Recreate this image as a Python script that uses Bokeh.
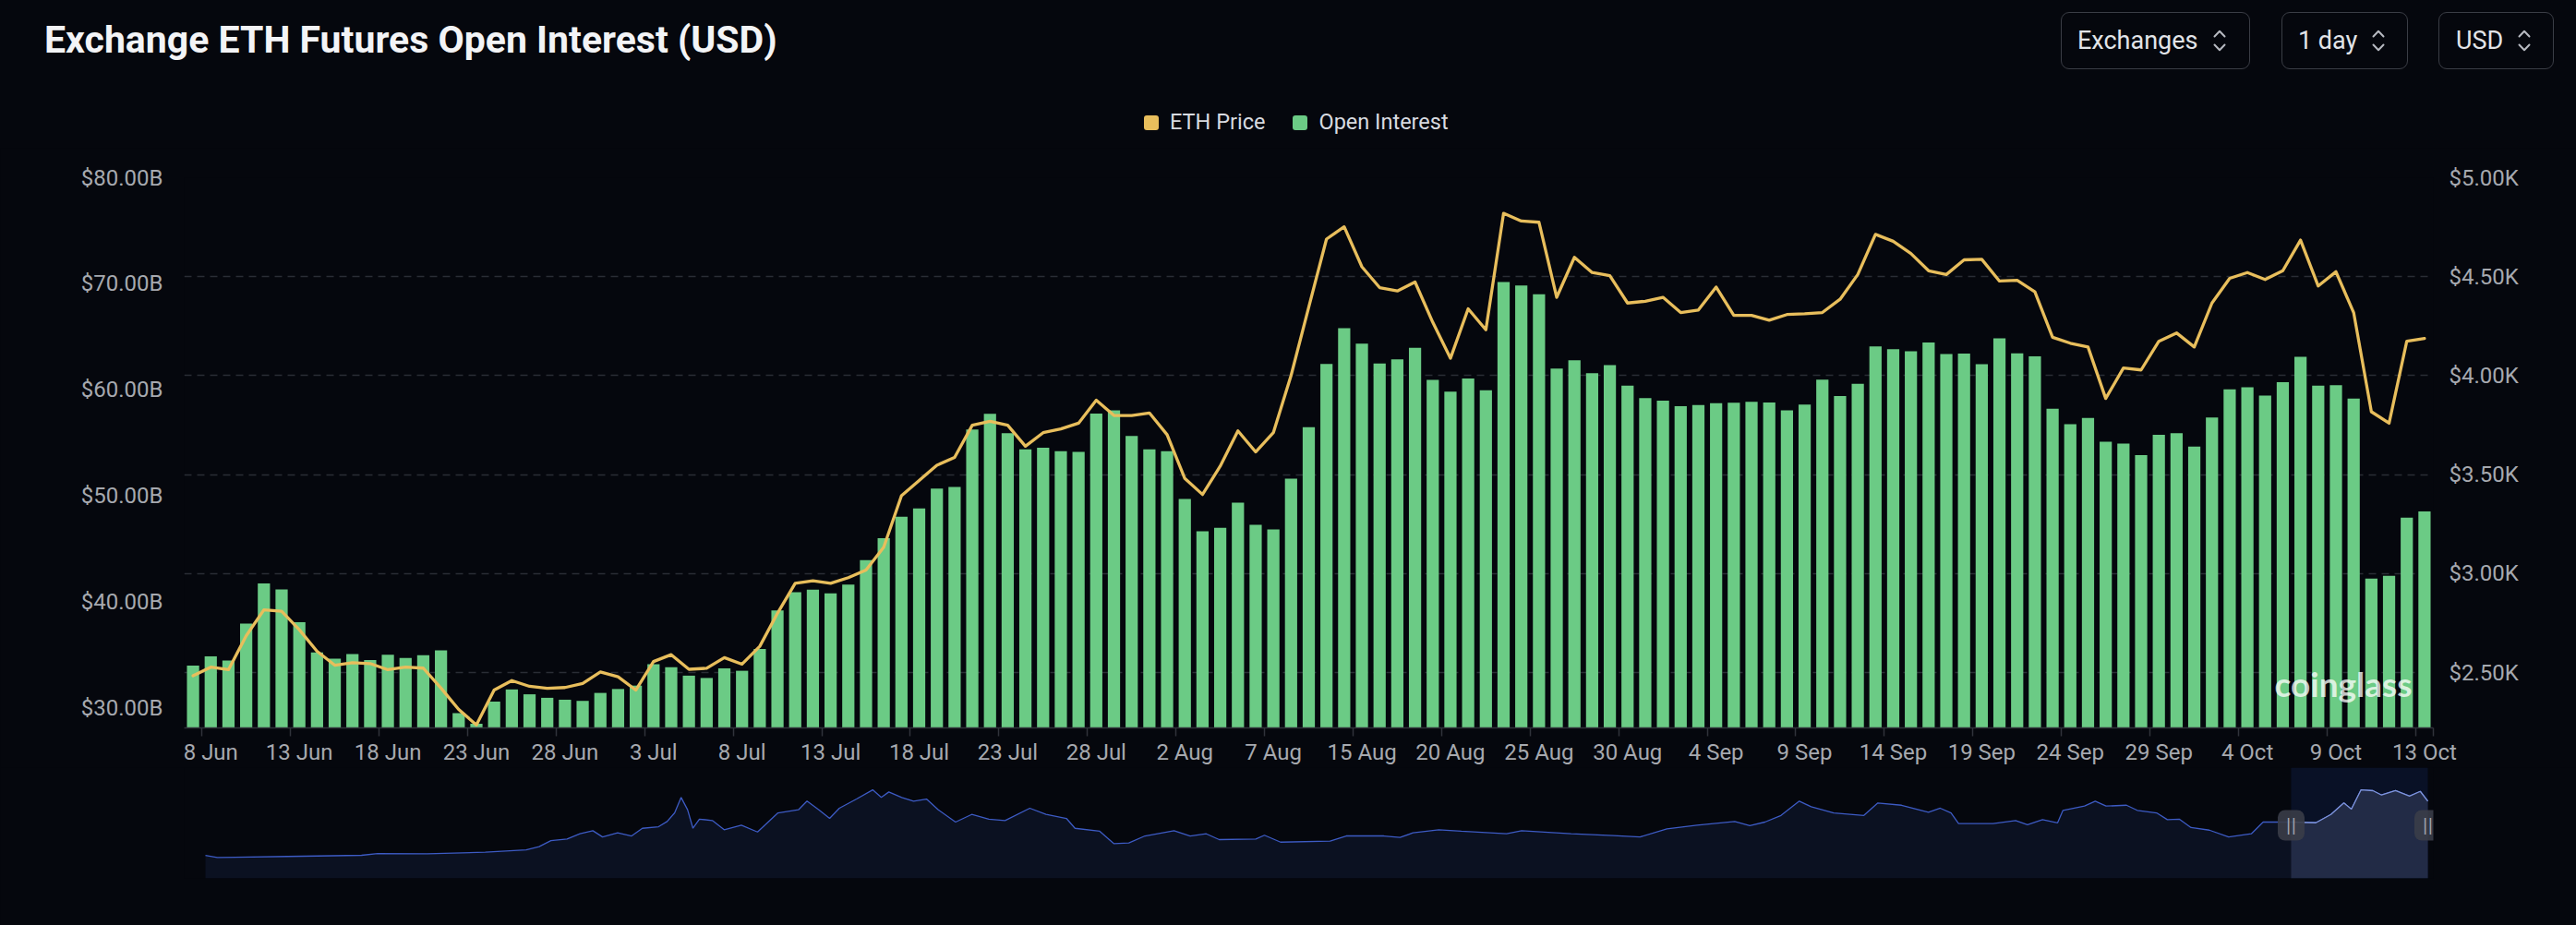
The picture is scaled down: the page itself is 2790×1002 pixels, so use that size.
import pandas as pd
from bokeh.plotting import figure
from bokeh.layouts import column
from bokeh.models import (Range1d, LinearAxis, FixedTicker, Grid, Label, Div,
                          BoxAnnotation)
from bokeh.embed import file_html
from bokeh.resources import INLINE

# ---------------- data ----------------
TITLE = "Exchange ETH Futures Open Interest (USD)"
CONTROLS = ["Exchanges", "1 day", "USD"]
SERIES = ["ETH Price", "Open Interest"]


def fmt(ts):
    return f"{ts.day} {ts.strftime('%b')}"


dates = ([fmt(d) for d in pd.date_range("2025-06-07", "2025-08-07")]
         + ["9 Aug", "11 Aug", "12 Aug", "13 Aug"]
         + [fmt(d) for d in pd.date_range("2025-08-15", "2025-10-09")]
         + ["10 Oct", "11 Oct", "12 Oct", "13 Oct", "13 Oct"])

# Open interest, $B
open_interest = [
    33.97, 34.84, 34.46, 37.93, 41.72, 41.17, 38.07, 35.21, 34.63, 35.06,
    34.49, 35.01, 34.69, 34.95, 35.41, 29.49, 28.50, 30.58, 31.73, 31.27,
    30.94, 30.76, 30.65, 31.40, 31.77, 32.09, 34.10, 33.82, 33.03, 32.81,
    33.71, 33.49, 35.54, 39.18, 40.90, 41.15, 40.79, 41.62, 43.92, 46.00,
    48.01, 48.81, 50.68, 50.82, 56.25, 57.73, 55.89, 54.38, 54.53, 54.20,
    54.13, 57.76, 58.05, 55.64, 54.38, 54.20, 49.70, 46.65, 46.97, 49.35,
    47.26, 46.83, 51.61, 56.47, 62.43, 65.81, 64.34, 62.47, 62.86, 63.95,
    60.93, 59.81, 61.07, 59.96, 70.16, 69.83, 69.01, 62.00, 62.79, 61.57,
    62.32, 60.38, 59.20, 58.98, 58.44, 58.55, 58.73, 58.77, 58.87, 58.80,
    58.05, 58.59, 60.96, 59.41, 60.56, 64.08, 63.83, 63.62, 64.45, 63.37,
    63.41, 62.40, 64.84, 63.44, 63.15, 58.20, 56.76, 57.33, 55.10, 54.92,
    53.84, 55.75, 55.89, 54.63, 57.37, 60.03, 60.24, 59.45, 60.71, 63.11,
    60.38, 60.42, 59.16, 42.19, 42.44, 47.94, 48.52,
]

# ETH price, $
eth_price = [
    2484, 2528, 2515, 2686, 2817, 2810, 2717, 2608, 2538, 2550,
    2546, 2515, 2528, 2523, 2422, 2314, 2236, 2412, 2460, 2431,
    2421, 2425, 2445, 2504, 2479, 2412, 2556, 2591, 2517, 2522,
    2576, 2543, 2633, 2800, 2951, 2964, 2951, 2980, 3018, 3134,
    3394, 3471, 3548, 3587, 3750, 3770, 3750, 3644, 3712, 3731,
    3760, 3876, 3799, 3799, 3812, 3702, 3481, 3400, 3543, 3721,
    3615, 3712, 4001, 4347, 4690, 4752, 4550, 4445, 4428, 4473,
    4270, 4088, 4338, 4232, 4820, 4781, 4775, 4396, 4598, 4521,
    4505, 4367, 4376, 4396, 4319, 4332, 4448, 4305, 4305, 4280,
    4309, 4313, 4319, 4386, 4511, 4714, 4679, 4617, 4530, 4511,
    4585, 4588, 4478, 4482, 4424, 4194, 4164, 4145, 3885, 4039,
    4029, 4174, 4216, 4145, 4367, 4492, 4521, 4486, 4530, 4685,
    4453, 4525, 4319, 3818, 3760, 4174, 4188,
]

oi_ticks = [30, 40, 50, 60, 70, 80]
price_ticks = [2500, 3000, 3500, 4000, 4500, 5000]
OI_MIN, OI_MAX = 28.1, 80.0
PRICE_MIN, PRICE_MAX = 2221, 5000

# navigator: full ETH price history (day index, $K)
nav_day = [
    0, 11, 76, 145, 160, 206, 260, 298, 310, 321,
    336, 348, 360, 369, 383, 396, 406, 421, 429, 436,
    442, 448, 453, 459, 471, 482, 498, 513, 532, 551,
    559, 570, 580, 589, 605, 620, 628, 635, 647, 658,
    670, 681, 697, 712, 728, 743, 766, 781, 800, 808,
    831, 844, 858, 873, 900, 915, 930, 942, 976, 984,
    999, 1045, 1060, 1095, 1110, 1122, 1146, 1167, 1209, 1223,
    1269, 1308, 1333, 1358, 1386, 1421, 1435, 1449, 1464, 1481,
    1492, 1513, 1541, 1554, 1576, 1601, 1612, 1622, 1629, 1661,
    1682, 1693, 1707, 1721, 1726, 1746, 1756, 1766, 1785, 1795,
    1813, 1823, 1834, 1845, 1862, 1880, 1901, 1912, 1938, 1961,
    1975, 1987, 1994, 2003, 2014, 2022, 2035, 2048, 2058, 2065,
]
nav_price_k = [
    0.27, 0.12, 0.19, 0.27, 0.40, 0.38, 0.49, 0.66, 0.88, 1.31,
    1.42, 1.79, 2.01, 1.57, 1.86, 1.64, 2.18, 2.29, 2.66, 3.27,
    4.36, 3.49, 2.18, 2.83, 2.73, 2.08, 2.40, 1.92, 3.27, 3.49,
    4.10, 3.49, 2.88, 3.60, 4.25, 4.90, 4.36, 4.75, 4.36, 4.10,
    4.25, 3.49, 2.62, 3.16, 2.83, 2.73, 3.60, 3.16, 2.88, 2.18,
    1.97, 1.10, 1.14, 1.64, 2.01, 1.64, 1.79, 1.38, 1.42, 1.69,
    1.20, 1.27, 1.64, 1.64, 1.53, 1.86, 2.08, 1.97, 1.79, 2.01,
    1.79, 1.66, 1.57, 2.14, 2.40, 2.66, 2.36, 2.62, 3.09, 4.10,
    3.71, 3.27, 3.09, 3.97, 3.81, 3.32, 3.60, 3.27, 2.51, 2.51,
    2.73, 2.44, 2.79, 2.57, 3.45, 3.75, 4.10, 3.75, 3.81, 3.45,
    3.27, 2.79, 2.83, 2.23, 2.05, 1.57, 1.79, 2.62, 2.62, 2.57,
    3.16, 3.97, 3.53, 4.90, 4.84, 4.53, 4.84, 4.46, 4.79, 4.10,
]
NAV_MIN, NAV_MAX = -1.36, 6.47

# ---------------- style / layout ----------------
BG = "#05070d"
AXIS_TXT = "#a6a9af"
GRID = "#2a2d35"
GREEN = "#6bcb85"
GOLD = "#e8be5c"
FONT = "Roboto"
W = 2790
BORDER_L, BORDER_R = 199, 155          # shared by all figures (frames align)
FRAME_W = W - BORDER_L - BORDER_R
NAV_PAD_L, NAV_PAD_R = 23, 6           # navigator data inset inside its frame
HEADER_H, MAIN_H, NAV_H = 160, 671, 171

N = len(dates)
idx = list(range(N))
label_idx = list(range(1, N, 5))
boundary_ticks = [i - 0.5 for i in label_idx] + [N - 0.5]

# ---------------- header (title, controls, legend) ----------------
chev = ('<svg width="14" height="24" viewBox="0 0 14 24" style="margin-left:16px;'
        'flex:none"><path d="M1.5 7.5 L7 1.8 L12.5 7.5 M1.5 16.5 L7 22.2 L12.5 16.5" '
        'fill="none" stroke="#b7bac1" stroke-width="2" stroke-linecap="round" '
        'stroke-linejoin="round"/></svg>')
boxes = [(2232, 205, 17), (2471, 137, 17), (2641, 125, 18)]
ctrl_html = ""
for txt, (left, width, pad) in zip(CONTROLS, boxes):
    ctrl_html += (
        f'<div style="position:absolute;left:{left}px;top:13px;width:{width}px;height:62px;'
        f'box-sizing:border-box;border:1.5px solid #3a3d45;border-radius:9px;display:flex;'
        f'align-items:center;padding-left:{pad}px;">'
        f'<span style="font-size:27px;color:#e2e4e8;white-space:nowrap">{txt}</span>{chev}</div>')

swatch = ('<span style="display:inline-block;width:16px;height:16px;border-radius:3px;'
          'background:{c};margin-right:12px"></span>')
legend_html = (
    '<div style="position:absolute;left:1239px;top:118px;height:30px;display:flex;'
    'align-items:center;font-size:23.5px;color:#d8dbe0;white-space:nowrap">'
    + swatch.format(c=GOLD) + f'<span style="margin-right:30px">{SERIES[0]}</span>'
    + swatch.format(c=GREEN) + f'<span>{SERIES[1]}</span></div>')

header_html = (
    f'<div style="position:relative;width:{W}px;height:{HEADER_H}px;background:{BG};'
    f'font-family:Roboto,sans-serif;">'
    f'<span style="position:absolute;left:48px;top:19px;font-size:41px;font-weight:700;'
    f'color:#f3f4f6;white-space:nowrap;line-height:normal">{TITLE}</span>'
    + ctrl_html + legend_html + '</div>')
header = Div(text=header_html, width=W, height=HEADER_H, margin=0)

# ---------------- main chart ----------------
main = figure(width=W, height=MAIN_H, x_range=Range1d(-0.5, N - 0.5),
              y_range=Range1d(OI_MIN, OI_MAX), output_backend="svg",
              toolbar_location=None, x_axis_type=None, y_axis_type=None, title=None,
              min_border_left=BORDER_L, min_border_right=BORDER_R, min_border_top=32,
              min_border_bottom=41, background_fill_color=BG, border_fill_color=BG,
              outline_line_color=None)
main.extra_y_ranges = {"price": Range1d(PRICE_MIN, PRICE_MAX)}

main.add_layout(Grid(dimension=1, ticker=FixedTicker(ticks=price_ticks),
                     y_range_name="price", grid_line_color=GRID, grid_line_width=1.5,
                     grid_line_dash="8 6"))

left_ax = LinearAxis(ticker=FixedTicker(ticks=oi_ticks),
                     major_label_overrides={t: f"${t:.2f}B" for t in oi_ticks})
right_ax = LinearAxis(y_range_name="price", ticker=FixedTicker(ticks=price_ticks),
                      major_label_overrides={t: f"${t / 1000:.2f}K" for t in price_ticks})
for ax, standoff in ((left_ax, 23), (right_ax, 17)):
    ax.axis_line_color = None
    ax.major_tick_line_color = None
    ax.minor_tick_line_color = None
    ax.major_tick_in = 0
    ax.major_tick_out = 0
    ax.major_label_standoff = standoff
    ax.major_label_text_font = FONT
    ax.major_label_text_font_size = "24px"
    ax.major_label_text_color = AXIS_TXT
main.add_layout(left_ax, "left")
main.add_layout(right_ax, "right")

# baseline with tick marks on the category boundaries (no labels)
tick_ax = LinearAxis(ticker=FixedTicker(ticks=boundary_ticks))
tick_ax.axis_line_color = "#30333b"
tick_ax.axis_line_width = 1.5
tick_ax.major_tick_line_color = "#30333b"
tick_ax.major_tick_line_width = 1.5
tick_ax.major_tick_in = 0
tick_ax.major_tick_out = 9
tick_ax.minor_tick_line_color = None
tick_ax.major_label_standoff = 0
tick_ax.major_label_text_font_size = "1px"
tick_ax.major_label_text_color = None
main.add_layout(tick_ax, "below")

# date labels on the category centres
date_ax = LinearAxis(ticker=FixedTicker(ticks=label_idx),
                     major_label_overrides={i: dates[i] for i in label_idx})
date_ax.axis_line_color = None
date_ax.major_tick_line_color = None
date_ax.minor_tick_line_color = None
date_ax.major_tick_in = 0
date_ax.major_tick_out = 0
date_ax.major_label_standoff = 3
date_ax.major_label_text_font = FONT
date_ax.major_label_text_font_size = "24px"
date_ax.major_label_text_color = AXIS_TXT
main.add_layout(date_ax, "below")

bars = main.vbar(x=idx, top=open_interest, bottom=OI_MIN, width=0.69,
                 fill_color=GREEN, line_color=None)
price_line = main.line(idx, eth_price, y_range_name="price", line_color=GOLD,
                       line_width=3.3, line_join="round", line_cap="round")

main.add_layout(Label(x=2264, y=48, x_units="screen", y_units="screen", text="coinglass",
                      text_font="Lato", text_font_style="bold", text_font_size="37px",
                      text_color="#ffffff", text_alpha=0.75, text_baseline="middle"))

# ---------------- navigator ----------------
span = nav_day[-1] - nav_day[0]
px_per_day = (FRAME_W - NAV_PAD_L - NAV_PAD_R) / span
nav_x0 = nav_day[0] - NAV_PAD_L / px_per_day
nav_x1 = nav_day[-1] + NAV_PAD_R / px_per_day

nav = figure(width=W, height=NAV_H, x_range=Range1d(nav_x0, nav_x1),
             y_range=Range1d(NAV_MIN, NAV_MAX), output_backend="svg",
             toolbar_location=None, x_axis_type=None, y_axis_type=None, title=None,
             min_border_left=BORDER_L, min_border_right=BORDER_R, min_border_top=0,
             min_border_bottom=51, background_fill_color=BG, border_fill_color=BG,
             outline_line_color=None)

win_start = nav_day[-1] - N
nav.add_layout(BoxAnnotation(left=win_start, right=nav_day[-1], fill_color="#091126",
                             fill_alpha=1.0, line_color=None, level="underlay"))
nav.varea(x=nav_day, y1=NAV_MIN, y2=nav_price_k, fill_color="#0b1121")
nav.line(nav_day, nav_price_k, line_color="#3d5bc4", line_width=1.3)

sel_day = [d for d in nav_day if d >= win_start]
sel_price = nav_price_k[len(nav_day) - len(sel_day):]
nav.varea(x=sel_day, y1=NAV_MIN, y2=sel_price, fill_color="#222b46")
nav.line(sel_day, sel_price, line_color="#7f95dc", line_width=1.3)

for d in (win_start, nav_day[-1]):
    sx = (d - nav_x0) * px_per_day
    nav.add_layout(BoxAnnotation(left=sx - 14.5, right=sx + 14.5, bottom=41, top=74,
                                 left_units="screen", right_units="screen",
                                 bottom_units="screen", top_units="screen",
                                 border_radius=8, fill_color="#3a3d48", fill_alpha=0.9,
                                 line_color=None))
    nav.add_layout(Label(x=sx, y=57.5, x_units="screen", y_units="screen", text="||",
                         text_font="DejaVu Sans", text_font_size="17px",
                         text_color="#a3a7b1", text_align="center",
                         text_baseline="middle"))

layout = column(header, main, nav, spacing=0)
html = file_html(layout, INLINE, title=TITLE)
html = html.replace("<head>", "<head><style>html,body{background-color:#05070d;}</style>", 1)
open("out.html", "w").write(html)
